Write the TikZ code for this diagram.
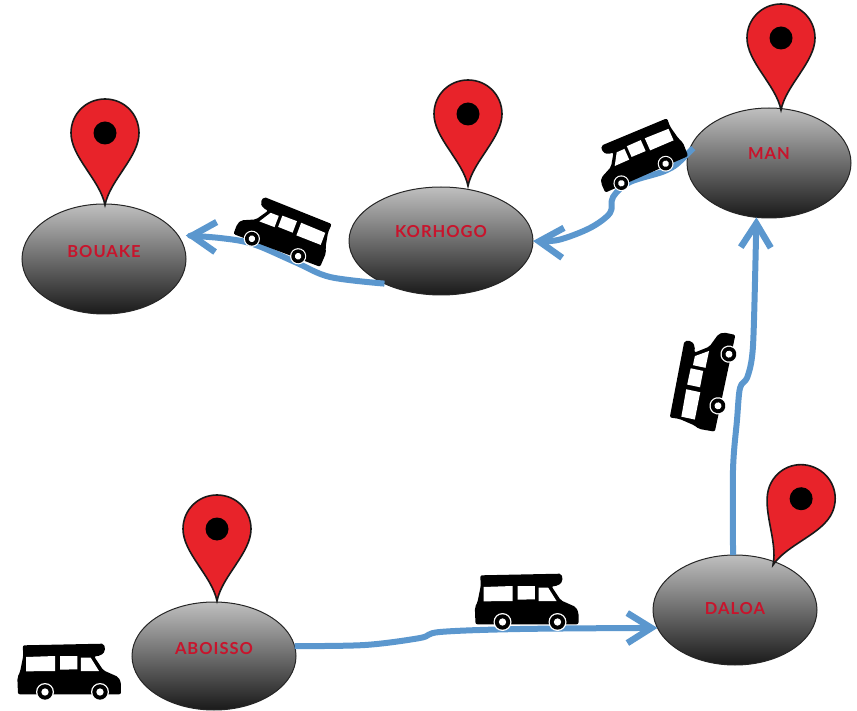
\documentclass[tikz,border=0pt]{standalone}
\usepackage{fontspec}
\setmainfont{Lato}
\usetikzlibrary{shapes.geometric,arrows.meta}
\definecolor{routeblue}{HTML}{5B97CE}
\definecolor{pinred}{HTML}{E8232A}
\definecolor{labelred}{HTML}{C8142C}
\tikzset{
  stop/.style={ellipse,draw=black!85,line width=1pt,top color=black!25,bottom color=black!90,
    minimum width=164pt,minimum height=110pt,inner sep=0pt,outer sep=0pt},
  stoplabel/.style={text=labelred,inner sep=0pt,font=\fontsize{16.5}{18}\fontseries{b}\selectfont\addfontfeature{LetterSpace=6}},
  route/.style={draw=routeblue,line width=6pt,line cap=butt,line join=round,
    -{Straight Barb[length=24pt,width=30pt,line width=6.5pt]}},
  pics/pin/.style={code={
    \path[draw=black!90,line width=1.6pt,fill=pinred,miter limit=10]
      (0,0) .. controls (-5,-25) and (-34,-48) .. (-34,-72)
      .. controls (-34,-91) and (-19,-106) .. (0,-106)
      .. controls (19,-106) and (34,-91) .. (34,-72)
      .. controls (34,-48) and (5,-25) .. cycle;
    \fill[black] (0,-72) circle[radius=11.5];
  }},
  pics/van/.style={code={
    \begin{scope}[x=0.3333pt,y=-0.3333pt,shift={(-217.5,-635)}]
      \fill[black,rounded corners=2pt] (68,495) -- (312,490) -- (316,512) -- (302,526) -- (282,528)
        -- (310,570) -- (355,590) -- (363,606) -- (363,642) -- (54,642) -- (52,592) -- (60,575) -- (70,525) -- cycle;
      \fill[white] (78,530) -- (165,527) -- (165,572) -- (78,573) -- cycle;
      \fill[white] (180,527) -- (232,527) -- (232,567) -- (180,568) -- cycle;
      \fill[white] (243,532) -- (272,532) -- (297,572) -- (243,572) -- cycle;
      \foreach \wx in {135,300}{
        \fill[white] (\wx,635) circle[radius=27];
        \fill[black] (\wx,635) circle[radius=23];
        \fill[white] (\wx,635) circle[radius=11];
      }
    \end{scope}
  }},
}
\begin{document}
\begin{tikzpicture}[x=1pt,y=-1pt]
\useasboundingbox (0,0) rectangle (857,711);

\node[stop] (bouake) at (104,259) {};
\node[stop,minimum width=184pt,minimum height=108pt] (korhogo) at (441,241) {};
\node[stop] (man) at (769,163) {};
\node[stop,minimum height=108pt] (aboisso) at (214,656) {};
\node[stop] (daloa) at (735,610) {};

\node[stoplabel] (bouakelabel) at ([yshift=7pt]bouake.center) {BOUAKE};
\node[stoplabel] (korhogolabel) at ([yshift=9pt]korhogo.center) {KORHOGO};
\node[stoplabel] (manlabel) at ([yshift=9pt]man.center) {MAN};
\node[stoplabel] (aboissolabel) at ([yshift=7pt]aboisso.center) {ABOISSO};
\node[stoplabel] (daloalabel) at ([yshift=1pt]daloa.center) {DALOA};

\path[route] plot[smooth,tension=.55] coordinates {(aboisso.7) (365,645) (420,638) (440,632) (520,629) (daloa.193)};
\path[route] plot[smooth,tension=.55] coordinates {(daloa.92) (733,470) (737,420) (740,388) (747,378) (752,357) (754,320) (man.257)};
\path[route,shorten <=-7pt] plot[smooth,tension=.55] coordinates {(man.173) (667,170) (630,182) (613,197) (610,213) (590,228) (558,240) (korhogo.east)};
\path[route,shorten >=8pt] plot[smooth,tension=.55] coordinates {(korhogo.217) (330,277) (295,262) (253,244) (220,238) (bouake.18)};

\pic (pinbouake) at (105,205) {pin};
\pic (pinkorhogo) at (468,186) {pin};
\pic (pinman) at (781,110) {pin};
\pic (pinaboisso) at (217,601) {pin};
\pic[rotate=-23] (pindaloa) at (773,565) {pin};

\pic (vanone) at (72.5,692) {van};
\pic (vantwo) at (530,622) {van};
\pic[rotate=-20.7,xscale=-.9,yscale=.9] (vanthree) at (275,247.5) {van};
\pic[rotate=23.8,xscale=-.88,yscale=.88] (vanfour) at (643.5,173.5) {van};
\pic[rotate=78,scale=.96] (vanfive) at (723.5,380) {van};
\end{tikzpicture}
\end{document}
